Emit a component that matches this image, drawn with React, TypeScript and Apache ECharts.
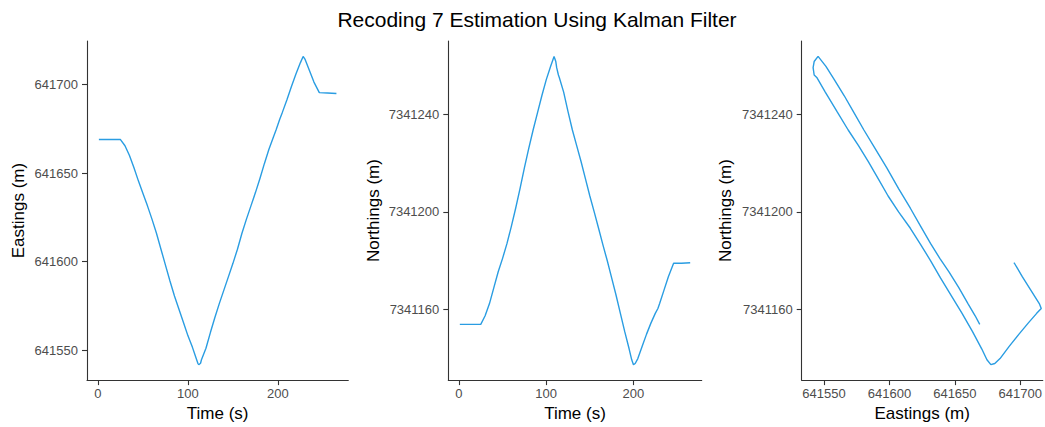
import React, { useEffect, useRef } from "react";
import * as echarts from "echarts";

// Time (s)
const timeS = [
  1, 25, 30, 35, 40, 45, 50, 55, 60, 65, 70, 75, 80, 85, 90, 95, 100, 105, 109, 111, 112, 114,
  115, 120, 125, 130, 135, 140, 145, 150, 155, 160, 165, 170, 175, 180, 185, 190, 195, 198, 200,
  202, 205, 210, 215, 220, 225, 228, 230, 235, 240, 246, 255, 265,
];
// Eastings (m)
const eastings = [
  641669.0, 641669.0, 641665.5, 641660.0, 641653.0, 641645.5, 641638.5, 641631.5, 641624.0,
  641616.0, 641607.0, 641598.0, 641589.0, 641580.5, 641573.0, 641565.5, 641558.0, 641551.5,
  641545.5, 641542.5, 641541.7, 641542.5,
  641544.5, 641551.0, 641560.0, 641568.5, 641576.5, 641584.0, 641591.5, 641599.0, 641607.0,
  641616.0, 641624.0, 641631.5, 641639.0, 641647.0, 641655.5, 641663.5, 641670.5, 641674.5,
  641677.5, 641680.5, 641684.5, 641691.5, 641699.0, 641706.0, 641712.5, 641716.0, 641714.5,
  641708.0, 641701.5, 641695.5, 641695.3, 641695.0,
];
// Northings (m)
const northings = [
  7341154.0, 7341154.0, 7341157.5, 7341162.5, 7341169.0, 7341175.5, 7341181.0, 7341187.0,
  7341194.0, 7341201.5, 7341209.5, 7341218.0, 7341226.0, 7341233.5, 7341240.5, 7341247.5,
  7341254.0, 7341259.5, 7341263.6, 7341261.5, 7341259.0, 7341256.0,
  7341255.0, 7341249.0, 7341241.0, 7341233.5, 7341227.0, 7341220.5, 7341213.5, 7341206.5,
  7341200.0, 7341193.3, 7341186.5, 7341180.0, 7341173.0, 7341166.0, 7341158.5, 7341151.0,
  7341144.0, 7341139.5, 7341137.5, 7341138.0, 7341140.0, 7341145.0, 7341150.0, 7341154.5,
  7341158.5, 7341160.5, 7341162.5, 7341168.0, 7341173.5, 7341179.0, 7341179.0, 7341179.2,
];

const timeTicks = [0, 100, 200];
const eastingTicks = [641550, 641600, 641650, 641700];
const northingTicks = [7341160, 7341200, 7341240];

const TITLE = "Recoding 7 Estimation Using Kalman Filter";
const FONT = "'Liberation Sans', Arial, Helvetica, sans-serif";
const LINE_COLOR = "#2a9de2";
const AXIS_COLOR = "#333333";

function expanded(values: number[]): [number, number] {
  const lo = Math.min(...values);
  const hi = Math.max(...values);
  const pad = (hi - lo) * 0.05;
  return [lo - pad, hi + pad];
}

function makeAxis(
  gridIndex: number,
  range: [number, number],
  ticks: number[],
  name: string,
  nameGap: number,
  labelMargin: number
) {
  return {
    type: "value",
    gridIndex,
    min: range[0],
    max: range[1],
    name,
    nameLocation: "middle",
    nameGap,
    nameTextStyle: { color: "#000000", fontSize: 17, fontFamily: FONT },
    axisLine: { show: true, onZero: false, lineStyle: { color: AXIS_COLOR, width: 1.1 } },
    axisTick: {
      show: true,
      length: 5,
      customValues: ticks,
      lineStyle: { color: AXIS_COLOR, width: 1.1 },
    },
    axisLabel: {
      show: true,
      customValues: ticks,
      color: "#4d4d4d",
      fontSize: 13,
      fontFamily: FONT,
      margin: labelMargin,
      formatter: (v: number) => String(Math.round(v)),
    },
    splitLine: { show: false },
  };
}

export default function App() {
  const ref = useRef<HTMLDivElement>(null);

  useEffect(() => {
    if (!ref.current) return;
    const chart = echarts.init(ref.current, null, { renderer: "svg" });

    const timeRange = expanded(timeS);
    const eastRange = expanded(eastings);
    const northRange = expanded(northings);

    // Third panel is cut off by the right edge of the picture: its full panel
    // would be 253.3px wide, only 243.3px of it is visible.
    const fullW3 = 253.3;
    const visW3 = 243.3;
    const eastRange3: [number, number] = [
      eastRange[0],
      eastRange[0] + ((eastRange[1] - eastRange[0]) * visW3) / fullW3,
    ];

    const seriesStyle = {
      type: "line",
      showSymbol: false,
      symbol: "none",
      smooth: false,
      lineStyle: { color: LINE_COLOR, width: 1.4 },
      itemStyle: { color: LINE_COLOR },
      silent: true,
    };

    const option = {
      animation: false,
      backgroundColor: "#ffffff",
      textStyle: { fontFamily: FONT },
      graphic: [
        {
          type: "text",
          x: 537,
          y: 19.5,
          style: {
            text: TITLE,
            fontSize: 21,
            fontFamily: FONT,
            fill: "#000000",
            align: "center",
            verticalAlign: "middle",
          },
        },
      ],
      grid: [
        { left: 87, top: 41, width: 261.3, height: 340 },
        { left: 448.3, top: 41, width: 253.4, height: 340 },
        { left: 801.7, top: 41, width: visW3, height: 340 },
      ],
      xAxis: [
        makeAxis(0, timeRange, timeTicks, "Time (s)", 23, 7),
        makeAxis(1, timeRange, timeTicks, "Time (s)", 23, 7),
        makeAxis(2, eastRange3, eastingTicks, "Eastings (m)", 23, 7),
      ],
      yAxis: [
        makeAxis(0, eastRange, eastingTicks, "Eastings (m)", 60.5, 9),
        makeAxis(1, northRange, northingTicks, "Northings (m)", 66.5, 9),
        makeAxis(2, northRange, northingTicks, "Northings (m)", 68, 9),
      ],
      series: [
        {
          ...seriesStyle,
          xAxisIndex: 0,
          yAxisIndex: 0,
          data: timeS.map((t, i) => [t, eastings[i]]),
        },
        {
          ...seriesStyle,
          xAxisIndex: 1,
          yAxisIndex: 1,
          data: timeS.map((t, i) => [t, northings[i]]),
        },
        {
          ...seriesStyle,
          xAxisIndex: 2,
          yAxisIndex: 2,
          data: eastings.map((e, i) => [e, northings[i]]),
        },
      ],
    };

    chart.setOption(option as any);
    return () => chart.dispose();
  }, []);

  return (
    <div
      ref={ref}
      style={{ position: "absolute", left: 0, top: 0, width: 1045, height: 427 }}
    />
  );
}
